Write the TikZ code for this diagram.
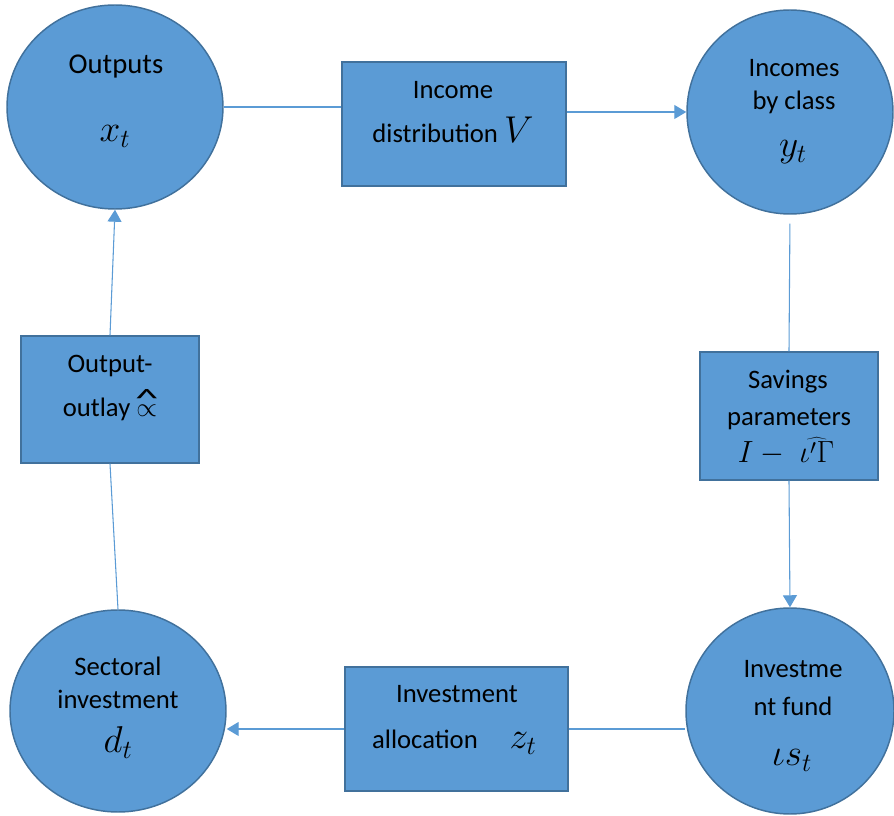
\RequirePackage{fix-cm}
\documentclass[tikz,border=0pt]{standalone}
\usepackage[no-math]{fontspec}
\setmainfont{Carlito}
\usepackage{tikz}
\usetikzlibrary{shapes.geometric,arrows.meta}
\definecolor{boxblue}{HTML}{5B9BD5}
\definecolor{edgeblue}{HTML}{41719C}
\newcommand{\flowsym}[1]{{\fontsize{28}{30}\selectfont$#1$}}
\newcommand{\hatprop}{\ooalign{$\propto$\cr\hidewidth\raisebox{7pt}{\scalebox{1.8}[1]{\char"5E}}\hidewidth\cr}}

\begin{document}
\begin{tikzpicture}[x=0.75pt, y=-0.75pt,
    blob/.style={ellipse, draw=edgeblue, fill=boxblue, line width=1.1pt, inner sep=0pt},
    block/.style={rectangle, draw=edgeblue, fill=boxblue, line width=1.1pt, inner sep=0pt},
    txt/.style={anchor=base, font=\fontsize{20}{24}\selectfont, inner sep=0pt},
    link/.style={draw=boxblue, line width=0.8pt},
    arr/.style={link, -{Triangle[length=9pt,width=10.5pt]}}]
        \useasboundingbox (0,0) rectangle (894,816);

        % Circles
        \node[blob, minimum width=162pt, minimum height=153pt] (outputs) at (115,107) {};
        \node[blob, minimum width=154.5pt, minimum height=153pt] (incomes) at (790,112) {};
        \node[blob, minimum width=156pt, minimum height=154.5pt] (fund) at (790,711) {};
        \node[blob, minimum width=162pt, minimum height=151.5pt] (sectoral) at (118,711) {};

        % Boxes
        \node[block, minimum width=168pt, minimum height=93pt] (incdist) at (454,124) {};
        \node[block, minimum width=133.5pt, minimum height=96pt] (savings) at (789,416) {};
        \node[block, minimum width=167.25pt, minimum height=93pt] (alloc) at (456.5,729) {};
        \node[block, minimum width=133.5pt, minimum height=95.25pt] (outlay) at (110,399.5) {};

        % Labels
        \node[txt, font=\fontsize{21.5}{24}\selectfont] (outputs-a) at (116,74) {Outputs};
        \node[txt] (outputs-b) at (115,142) {\flowsym{x_t}};
        \node[txt] (incdist-a) at (453,99) {Income};
        \node[txt] (incdist-b) at (453,143) {distribution \flowsym{V}};
        \node[txt] (incomes-a) at (794,77) {Incomes};
        \node[txt] (incomes-b) at (794,110) {by class};
        \node[txt] (incomes-c) at (793,157) {\flowsym{y_t}};
        \node[txt] (savings-a) at (788,389) {Savings};
        \node[txt] (savings-b) at (789,426) {parameters};
        \node[txt] (savings-c) at (786,463) {\fontsize{23}{26}\selectfont$I-\;\widehat{\iota'\Gamma}$};
        \node[txt] (fund-a) at (793,678) {Investme};
        \node[txt] (fund-b) at (793,716) {nt fund};
        \node[txt] (fund-c) at (792,766) {\flowsym{\iota s_t}};
        \node[txt] (alloc-a) at (457,703) {Investment};
        \node[txt] (alloc-b) at (425,749) {allocation};
        \node[txt] (alloc-c) at (523,749) {\flowsym{z_t}};
        \node[txt] (sectoral-a) at (118,676) {Sectoral};
        \node[txt] (sectoral-b) at (118,709) {investment};
        \node[txt] (sectoral-c) at (118,753) {\flowsym{d_t}};
        \node[txt] (outlay-a) at (110,373) {Output-};
        \node[txt] (outlay-b) at (110,417) {outlay \hatprop};

        % Connectors
        \draw[link] (outputs.east) -- (outputs.east -| incdist.west);
        \draw[arr] (incdist.east |- incomes.west) -- (incomes.west);
        \draw[link, shorten <=6.75pt] (incomes.south) -- (savings.north);
        \draw[arr] (savings.south) -- (fund.north);
        \draw[link] (alloc.east) -- (alloc.east -| fund.west);
        \draw[arr] (alloc.west) -- (alloc.west -| sectoral.east);
        \draw[link] (sectoral.north) -- (outlay.south);
        \draw[arr] (outlay.north) -- (outputs.south);
\end{tikzpicture}
\end{document}
